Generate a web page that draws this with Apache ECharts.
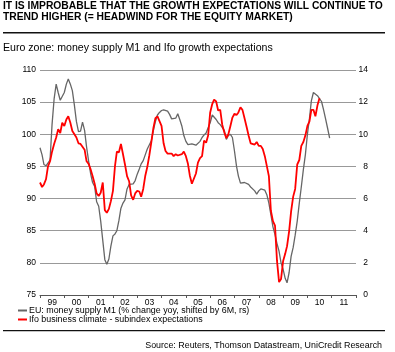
<!DOCTYPE html>
<html>
<head>
<meta charset="utf-8">
<script src="https://cdn.jsdelivr.net/npm/echarts@6/dist/echarts.min.js"></script>
<style>
html,body{margin:0;padding:0;background:#fff;}
#chart{width:395px;height:352px;}
</style>
</head>
<body>
<div id="chart"></div>
<script>
// ---- data ----
const titleLines = ['IT IS IMPROBABLE THAT THE GROWTH EXPECTATIONS WILL CONTINUE TO', 'TREND HIGHER (= HEADWIND FOR THE EQUITY MARKET)'];
const subtitle = 'Euro zone: money supply M1 and Ifo growth expectations';
const sourceText = 'Source: Reuters, Thomson Datastream, UniCredit Research';
const yearLabels = ['99','00','01','02','03','04','05','06','07','08','09','10','11'];
const seriesNames = ['EU: money supply M1 (% change yoy, shifted by 6M, rs)', 'Ifo business climate - subindex expectations'];
const startYear = 1999; // monthly data starting January 1999
// M1 growth, % yoy (right scale), monthly from Jan 1999
const m1Growth = [
 9.16,8.72,8.12,8.04,8.12,8.4,10.6,12.2,13.12,12.6,12.12,12.0,
 12.6,13.12,13.44,13.12,12.72,11.8,10.8,10.16,10.2,10.76,10.24,9.2,
 8.32,7.52,7.0,6.76,5.8,5.52,4.6,3.4,2.2,1.92,2.24,3.04,
 3.68,3.8,4.0,4.64,5.4,5.72,5.92,6.6,6.88,6.88,6.92,7.12,
 7.52,7.84,8.16,8.36,8.72,9.08,9.2,9.6,10.24,10.8,11.2,11.36,
 11.48,11.52,11.6,11.44,11.24,10.96,10.88,11.0,11.28,10.92,10.52,9.92,
 9.56,9.36,9.4,9.4,9.52,9.32,9.36,9.56,9.8,9.96,10.08,10.4,
 10.72,11.2,11.16,10.92,10.72,10.6,10.6,10.24,9.68,9.92,10.0,9.8,
 8.96,8.0,7.4,6.96,6.88,7.0,6.96,6.88,6.72,6.64,6.48,6.28,
 6.48,6.6,6.64,6.52,6.24,5.72,5.0,4.24,3.76,3.2,2.72,2.0,
 1.6,1.04,0.76,1.4,2.4,2.96,3.72,4.6,5.72,6.72,7.8,8.72,
 10.0,11.0,12.08,12.6,12.6,12.4,12.4,12.04,11.52,10.96,10.36,9.76
];
// Ifo expectations (left scale), monthly from Jan 1999
const ifoExpect = [
 92.5,91.8,92.2,93.0,95.0,95.8,97.3,98.5,99.5,100.8,100.2,101.8,
 101.3,102.3,102.8,101.8,100.5,100.0,99.5,98.6,98.5,98.8,97.6,95.8,
 95.4,94.5,93.5,92.3,90.8,90.4,90.9,92.5,88.2,87.8,88.4,89.6,
 91.2,95.1,97.3,97.2,98.5,96.9,95.3,93.5,92.7,90.5,89.8,90.8,
 91.2,91.1,90.3,91.5,93.5,94.9,96.7,98.8,101.0,102.5,102.8,102.5,
 101.3,98.6,97.4,97.0,96.9,97.0,96.6,96.9,96.7,96.6,96.9,97.3,
 96.6,95.4,93.6,92.3,92.6,93.9,95.6,96.3,96.6,99.0,98.7,99.8,
 103.4,104.7,105.4,105.1,103.7,103.8,101.5,100.3,99.4,100.0,101.3,102.6,
 103.2,103.0,103.4,104.2,103.8,102.5,101.2,99.8,98.6,98.5,98.4,98.8,
 98.2,98.2,97.7,96.6,96.6,93.5,88.1,86.5,85.8,80.3,77.0,77.5,
 80.3,81.4,82.6,84.9,88.0,90.3,91.5,95.3,96.0,98.2,98.8,99.8,
 101.3,102.0,103.8,103.8,102.8,104.5,105.6
];

// ---- build ----
function toPairs(arr){ return arr.map((v,i)=>[new Date(startYear, i, 1).getTime(), v]); }
const font = 'Liberation Sans, Arial, sans-serif';
const chart = echarts.init(document.getElementById('chart'), null, {renderer:'canvas'});
chart.setOption({
  animation:false,
  backgroundColor:'#fff',
  textStyle:{fontFamily:font},
  title:[
    {text:titleLines.join('\n'), left:3, top:1, padding:0, textStyle:{fontSize:10.3, fontWeight:'bold', color:'#000', lineHeight:10.8, fontFamily:font}},
    {text:subtitle, left:3, top:43, padding:0, textStyle:{fontSize:10.6, fontWeight:'normal', color:'#000', fontFamily:font}},
    {text:sourceText, right:13, top:341, padding:0, textStyle:{fontSize:8.9, fontWeight:'normal', color:'#000', fontFamily:font}}
  ],
  graphic:{elements:[
    {type:'rect', z:100, shape:{x:3, y:32, width:382, height:1.5}, style:{fill:'#111'}},
    {type:'rect', z:100, shape:{x:3, y:330, width:382, height:1.2}, style:{fill:'#111'}}
  ]},
  legend:{
    orient:'vertical', left:18, top:306, padding:0, itemGap:0, itemWidth:9, itemHeight:2,
    icon:'rect',
    textStyle:{fontSize:8.9, color:'#000', lineHeight:8, padding:[0,0,0,-3]},
    data:[{name:seriesNames[0], itemStyle:{color:'#666'}},{name:seriesNames[1], itemStyle:{color:'#ff0000'}}]
  },
  grid:{left:40, right:39, top:70, bottom:57, containLabel:false},
  xAxis:[
    {type:'category', data:yearLabels, boundaryGap:true,
     axisLine:{lineStyle:{color:'#555', width:1}},
     axisTick:{show:true, length:3, lineStyle:{color:'#555'}},
     axisLabel:{fontSize:8.5, color:'#000', margin:3}},
    {type:'time', min:new Date(startYear,0,1).getTime(), max:new Date(startYear+13,0,1).getTime(), show:false}
  ],
  yAxis:[
    {type:'value', min:75, max:110, interval:5, position:'left',
     axisLine:{show:false}, axisTick:{show:false},
     axisLabel:{fontSize:8.5, color:'#000', margin:4},
     splitLine:{lineStyle:{color:'#999', width:1}}},
    {type:'value', min:0, max:14, interval:2, position:'right',
     axisLine:{show:false}, axisTick:{show:false},
     axisLabel:{fontSize:8.5, color:'#000', margin:12, align:'right'},
     splitLine:{show:false}}
  ],
  series:[
    {name:seriesNames[0], type:'line', xAxisIndex:1, yAxisIndex:1, data:toPairs(m1Growth), showSymbol:false,
     lineStyle:{color:'#666', width:1.3}, itemStyle:{color:'#666'}, z:2},
    {name:seriesNames[1], type:'line', xAxisIndex:1, yAxisIndex:0, data:toPairs(ifoExpect), showSymbol:false,
     lineStyle:{color:'#ff0000', width:1.8}, itemStyle:{color:'#ff0000'}, z:3}
  ]
});
</script>
</body>
</html>
